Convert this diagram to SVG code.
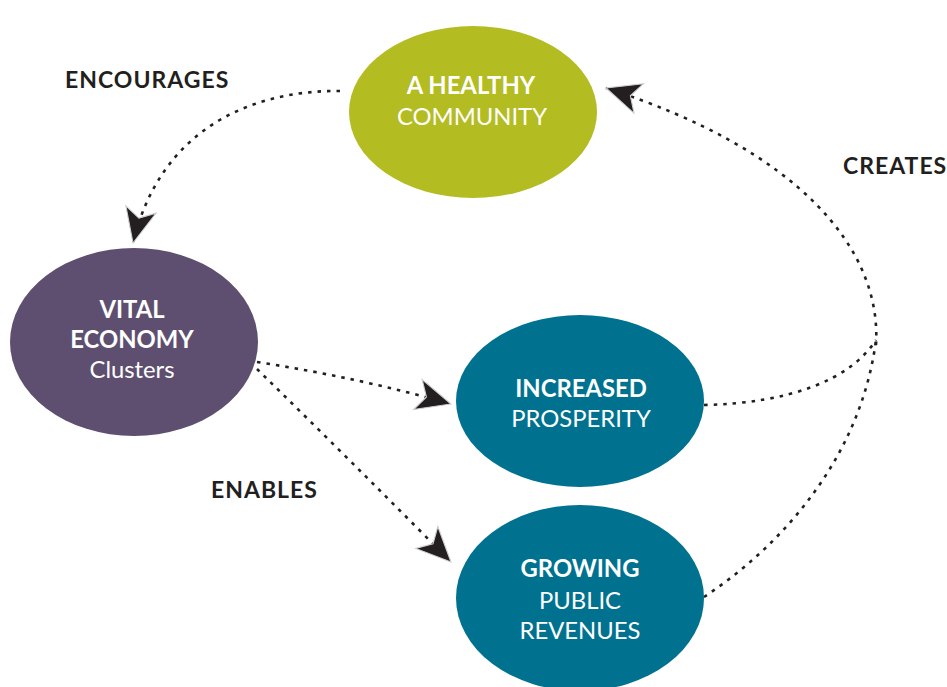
<svg xmlns="http://www.w3.org/2000/svg" width="947" height="687" viewBox="0 0 947 687">
<style>
  .lbl { font-family: Lato, "Liberation Sans", sans-serif; font-weight: 700; font-size: 23px; letter-spacing: 1px; fill: #231f20; }
  .nt { font-family: Lato, "Liberation Sans", sans-serif; font-size: 23.8px; fill: #ffffff; text-anchor: middle; }
  .b { font-weight: 700; }
  .conn { fill: none; stroke: #231f20; stroke-width: 2.6; stroke-dasharray: 3.5 6; }
</style>
<defs>
  <marker id="arr" markerUnits="userSpaceOnUse" markerWidth="40" markerHeight="40" viewBox="-34 -17 36 34" refX="0" refY="0" orient="auto">
    <path d="M0,0 L-31,-14 L-23,0 L-31,14 Z" fill="#231f20" stroke="#cfcfcf" stroke-width="1"/>
  </marker>
</defs>
<rect width="947" height="687" fill="#ffffff"/>
<g id="connectors">
  <path class="conn" d="M340,91 C250,90 160,130 133,243" marker-end="url(#arr)"/>
  <path class="conn" d="M257,362 Q360,378 451,404" marker-end="url(#arr)"/>
  <path class="conn" d="M257,369 Q352,462 451,562" marker-end="url(#arr)"/>
  <path class="conn" d="M704,405 C790,403 850,380 876,340"/>
  <path class="conn" d="M704,597 C790,540 862,450 876,340"/>
  <path class="conn" d="M876,345 C882,250 800,150 606,88" marker-end="url(#arr)"/>
</g>
<g id="healthy">
  <ellipse cx="473" cy="112" rx="124" ry="86" fill="#b3bc20"/>
  <text class="nt b" x="471" y="94">A HEALTHY</text>
  <text class="nt" x="472" y="125">COMMUNITY</text>
</g>
<g id="vital">
  <ellipse cx="134" cy="342" rx="124" ry="94" fill="#5e4f71"/>
  <text class="nt b" x="132" y="318">VITAL</text>
  <text class="nt b" x="132" y="348">ECONOMY</text>
  <text class="nt" x="132" y="378">Clusters</text>
</g>
<g id="prosperity">
  <ellipse cx="580" cy="401" rx="124" ry="86" fill="#007290"/>
  <text class="nt b" x="581" y="397">INCREASED</text>
  <text class="nt" x="581" y="427">PROSPERITY</text>
</g>
<g id="revenues">
  <ellipse cx="580" cy="598" rx="124" ry="93" fill="#007290"/>
  <text class="nt b" x="580" y="577">GROWING</text>
  <text class="nt" x="580" y="609">PUBLIC</text>
  <text class="nt" x="580" y="639">REVENUES</text>
</g>
<g id="labels">
  <text class="lbl" x="65" y="88">ENCOURAGES</text>
  <text class="lbl" x="211" y="498">ENABLES</text>
  <text class="lbl" x="843" y="174">CREATES</text>
</g>
</svg>
